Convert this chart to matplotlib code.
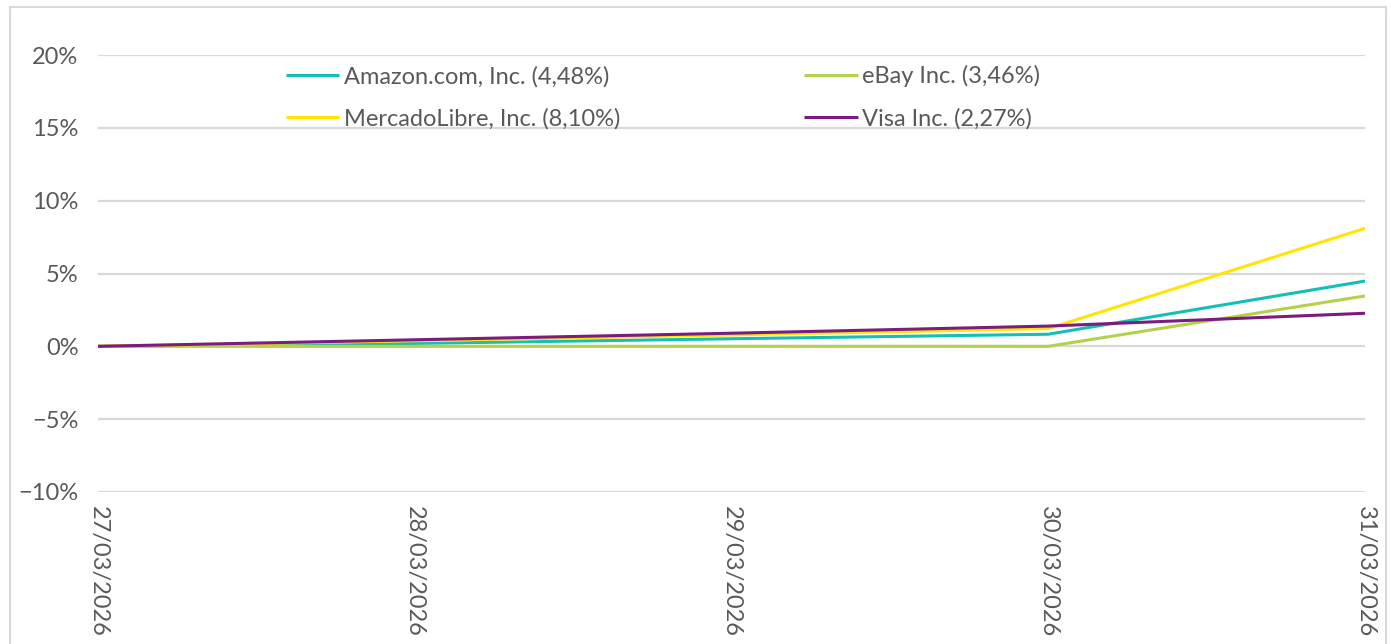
import matplotlib
matplotlib.use("Agg")
import matplotlib.pyplot as plt
from matplotlib.patches import Rectangle
from matplotlib.ticker import FuncFormatter

dates = ["27/03/2026", "28/03/2026", "29/03/2026", "30/03/2026", "31/03/2026"]
amazon = [0.0, 0.20, 0.52, 0.83, 4.48]
ebay = [0.0, 0.0, 0.0, 0.0, 3.46]
mercado = [0.0, 0.38, 0.78, 1.22, 8.10]
visa = [0.0, 0.45, 0.90, 1.39, 2.27]
labels = ["Amazon.com, Inc. (4,48%)", "eBay Inc. (3,46%)",
          "MercadoLibre, Inc. (8,10%)", "Visa Inc. (2,27%)"]
colors = ["#14bfb7", "#b3d249", "#ffe500", "#7b1c80"]
yticks = [-10, -5, 0, 5, 10, 15, 20]

plt.rcParams['font.family'] = ['Lato', 'DejaVu Sans']
fig = plt.figure(figsize=(13.91, 6.44), dpi=100)
ax = fig.add_axes([98/1391, 1-492/644, (1365-98)/1391, (492-55)/644])

x = list(range(len(dates)))
series = [amazon, ebay, mercado, visa]
lines = []
for s, c, l in zip(series, colors, labels):
    ln, = ax.plot(x, s, color=c, lw=2.2, label=l, solid_capstyle='butt')
    lines.append(ln)

ax.set_xlim(0, 4)
ax.set_ylim(-10, 20)
ax.set_yticks(yticks)
ax.yaxis.set_major_formatter(FuncFormatter(lambda v, p: f"{v:.0f}%".replace("-", "\u2212")))
ax.set_xticks(x)
ax.set_xticklabels(dates, rotation=270, va='top', ha='center')
ax.grid(axis='y', color='#d9d9d9', lw=1.6)
ax.set_axisbelow(True)
for sp in ax.spines.values():
    sp.set_visible(False)
ax.tick_params(axis='both', length=0, labelsize=17, labelcolor='#595959')
ax.tick_params(axis='y', pad=14)
ax.tick_params(axis='x', pad=10)

handles = [lines[0], lines[2], lines[1], lines[3]]
hl = [labels[0], labels[2], labels[1], labels[3]]
leg = ax.legend(handles, hl, ncol=2, loc='upper left', bbox_to_anchor=(286/1391, 1-65/644),
                bbox_transform=fig.transFigure, frameon=False, fontsize=17,
                handlelength=2.25, handletextpad=0.2, columnspacing=7.8, labelspacing=0.87,
                borderaxespad=0, borderpad=0)
for t in leg.get_texts():
    t.set_color('#595959')

fig.patches.append(Rectangle((10/1391, -0.1), (1386-10)/1391, 1.1 - 7/644,
                             transform=fig.transFigure, fill=False,
                             edgecolor='#d9d9d9', lw=1.5, figure=fig))
fig.savefig("out.png", dpi=100)
